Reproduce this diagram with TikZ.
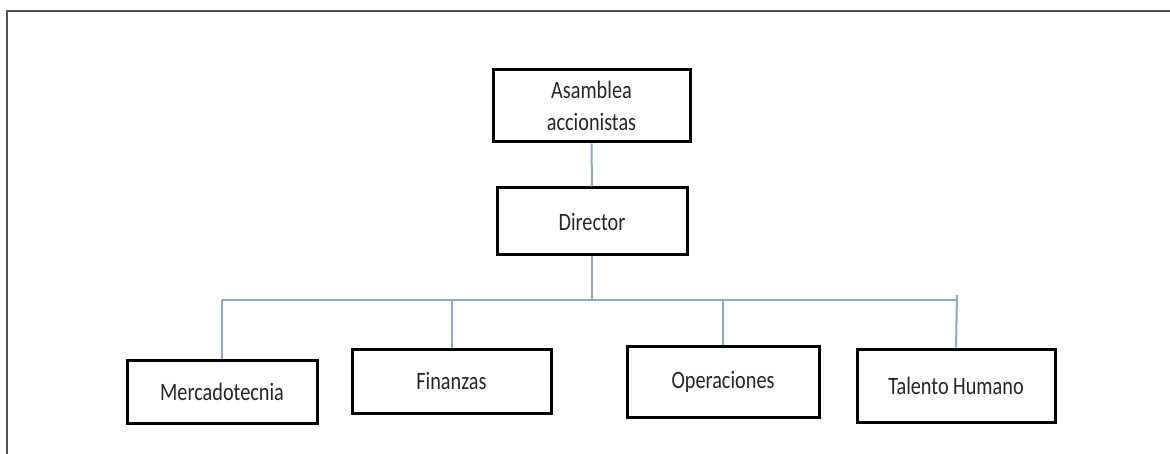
\documentclass[tikz,border=0pt]{standalone}
\usepackage{fontspec}
\setmainfont{Carlito}[FakeStretch=0.81]
\begin{document}
\begin{tikzpicture}[x=1pt,y=-1pt,
  unit/.style={draw=black, line width=3pt, fill=white, rectangle, inner sep=0pt,
    align=center, text=black!85, font=\fontsize{25}{32}\selectfont},
  link/.style={draw={rgb,255:red,143;green,168;blue,196}, line width=2pt}]
  \useasboundingbox (0,0) rectangle (1170,454);
  % page frame (top and left edges)
  \draw[line width=2.5pt, draw=black!67] (7,454) -- (7,11) -- (1170,11);

  % units
  \node[unit, minimum width=197pt, minimum height=72pt] (asm) at (591.5,106) {Asamblea\\accionistas};
  \node[unit, minimum width=190pt, minimum height=67pt] (dir) at (592,221.5) {Director};
  \node[unit, minimum width=190pt, minimum height=63pt] (mer) at (222,391.5) {Mercadotecnia};
  \node[unit, minimum width=199pt, minimum height=64pt] (fin) at (451.5,381) {Finanzas};
  \node[unit, minimum width=192pt, minimum height=71pt] (ope) at (723,381.5) {Operaciones};
  \node[unit, minimum width=198pt, minimum height=73pt] (tal) at (956,385.5) {Talento Humano};

  % bus line
  \coordinate (busL) at (222,300);
  \coordinate (busR) at (957,300);
  \coordinate (tick) at (957,295);

  \draw[link] (asm.south) -- (dir.north);
  \draw[link] (dir.south) -- (dir.south |- busL);
  \draw[link] (busL) -- (busR);
  \draw[link] (mer.north) -- (mer.north |- busL);
  \draw[link] (fin.north) -- (fin.north |- busL);
  \draw[link] (ope.north) -- (ope.north |- busL);
  \draw[link] (tal.north) -- (tick);
\end{tikzpicture}
\end{document}
